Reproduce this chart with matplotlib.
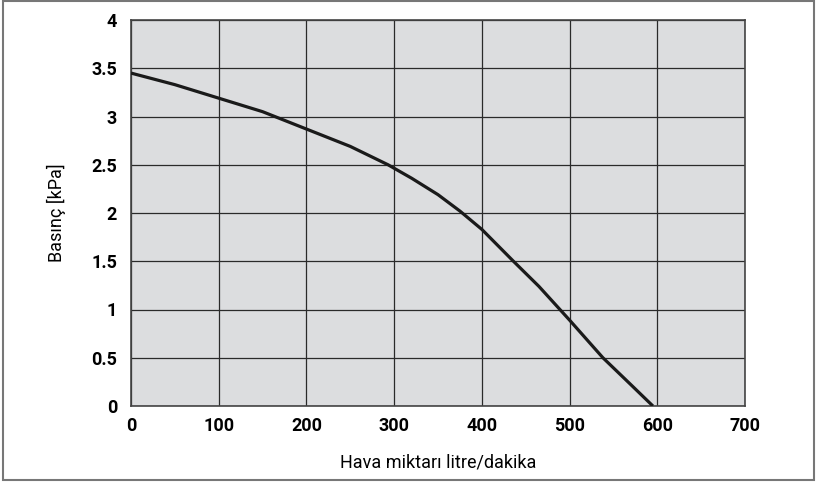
import matplotlib.pyplot as plt
from matplotlib.patches import Rectangle

# air flow (litre/min) vs pressure (kPa)
flow = [0, 50, 100, 150, 200, 250, 293, 320, 350, 375, 400, 436, 465, 489, 500, 538, 570, 595]
pressure = [3.45, 3.33, 3.19, 3.05, 2.87, 2.69, 2.50, 2.36, 2.19, 2.02, 1.83, 1.50, 1.24, 1.00, 0.89, 0.50, 0.22, 0.0]

x_ticks = [0, 100, 200, 300, 400, 500, 600, 700]
y_ticks = [0, 0.5, 1, 1.5, 2, 2.5, 3, 3.5, 4]
y_labels = ['0', '0.5', '1', '1.5', '2', '2.5', '3', '3.5', '4']

plt.rcParams['font.family'] = ['Roboto', 'DejaVu Sans']

fig = plt.figure(figsize=(8.18, 4.84), dpi=100)
ax = fig.add_axes([131 / 818, 1 - 406 / 484, 614 / 818, 386 / 484])
ax.set_facecolor('#dcdddf')

ax.plot(flow, pressure, color='#1a1a1a', lw=2.3, solid_capstyle='butt',
        solid_joinstyle='round', zorder=3)

ax.set_xlim(0, 700)
ax.set_ylim(0, 4)
ax.set_xticks(x_ticks)
ax.set_yticks(y_ticks)
ax.set_yticklabels(y_labels)
ax.grid(True, color='#2a2a2a', lw=0.9)
ax.set_axisbelow(True)
ax.tick_params(length=0, labelsize=13)
ax.tick_params(axis='y', pad=10)
ax.tick_params(axis='x', pad=8)
for lab in ax.get_xticklabels() + ax.get_yticklabels():
    lab.set_fontweight('bold')
for s in ax.spines.values():
    s.set_color('#444444')
    s.set_linewidth(1.2)

ax.set_xlabel('Hava miktarı litre/dakika', fontsize=13, labelpad=13)
ax.set_ylabel('Basınç [kPa]', fontsize=13, labelpad=18)

# outer frame
fig.patches.append(Rectangle((3 / 818, 4 / 484), 811 / 818, 479 / 484, transform=fig.transFigure,
                             fill=False, edgecolor='#777777', lw=1.5))

fig.savefig('out.png', dpi=100)
